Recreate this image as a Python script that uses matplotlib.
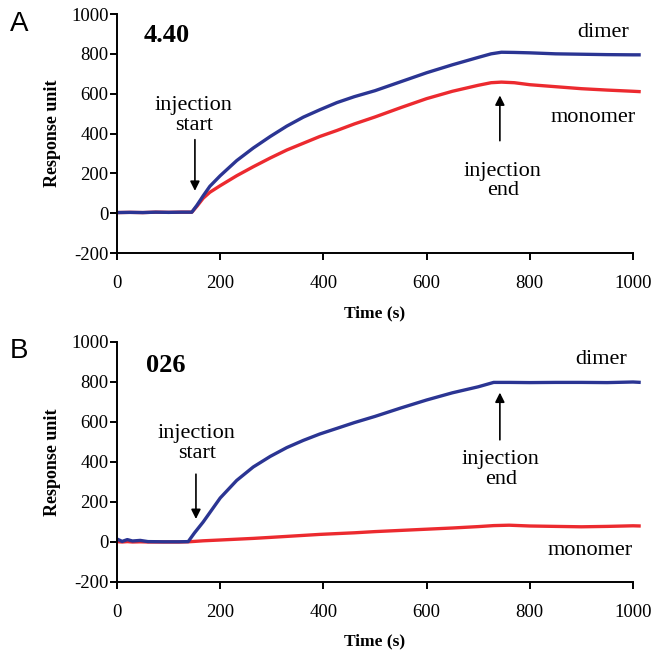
import matplotlib
matplotlib.use("Agg")
import matplotlib.pyplot as plt

# ---- data ----
time_A = [0, 25, 50, 75, 100, 125, 145, 155, 167, 180, 200, 232, 264, 297, 329,
          361, 393, 426, 460, 500, 550, 600, 650, 700, 725, 745, 770, 800, 850,
          900, 950, 1000, 1015]
dimer_A = [3, 4, 3, 5, 4, 5, 5, 40, 87, 135, 188, 264, 327, 385, 437,
           482, 519, 555, 585, 615, 660, 705, 745, 782, 800, 808, 807, 805, 800,
           798, 796, 795, 795]
monomer_A = [3, 4, 3, 5, 4, 5, 5, 35, 75, 105, 138, 188, 233, 277, 317,
             351, 385, 415, 448, 483, 530, 575, 612, 642, 655, 658, 655, 645, 635,
             625, 618, 612, 610]

time_B = [0, 10, 20, 30, 45, 60, 90, 120, 138, 150, 167, 200, 232, 264, 297,
          329, 361, 393, 426, 460, 500, 550, 600, 650, 700, 730, 760, 800, 850,
          900, 950, 1000, 1015]
dimer_B = [15, 3, 12, 5, 8, 2, 1, 1, 2, 45, 100, 220, 308, 375, 428,
           472, 508, 540, 568, 597, 628, 670, 710, 746, 776, 798, 798, 797, 798,
           798, 797, 800, 798]
monomer_B = [2, 0, 2, 0, 1, 0, 0, 0, 1, 3, 6, 10, 14, 18, 23,
             28, 33, 38, 42, 46, 52, 58, 64, 70, 77, 82, 84, 80, 78,
             76, 78, 81, 80]

yticks = [-200, 0, 200, 400, 600, 800, 1000]
xticks = [0, 200, 400, 600, 800, 1000]

BLUE = "#2b3593"
RED = "#ec2a2f"
SERIF = ["Liberation Serif", "DejaVu Serif"]

fig = plt.figure(figsize=(6.52, 6.56), dpi=100)
axA = fig.add_axes([117/652, 1-253/656, 516/652, 239/656])
axB = fig.add_axes([117/652, 1-582/656, 516/652, 240/656])

panels = [
    (axA, time_A, dimer_A, monomer_A, "A", "4.40",
     dict(title=(97, 893), start_txt=(149, 490), start_arrow=(151, 369, 112),
          end_txt=(748, 162), end_arrow=(742, 364, 591),
          dimer=(942, 909), monomer=(922, 480), timey=-0.218, lety=0.958)),
    (axB, time_B, dimer_B, monomer_B, "B", "026",
     dict(title=(95, 882), start_txt=(155, 491), start_arrow=(153, 339, 115),
          end_txt=(744, 361), end_arrow=(742, 511, 747),
          dimer=(939, 912), monomer=(917, -42), timey=-0.2125, lety=0.9625)),
]

for ax, t, d, m, letter, title, pos in panels:
    ax.plot(t, m, color=RED, lw=2.4, clip_on=False, solid_capstyle="butt")
    ax.plot(t, d, color=BLUE, lw=2.4, clip_on=False, solid_capstyle="butt")
    ax.set_xlim(0, 1000)
    ax.set_ylim(-200, 1000)
    ax.set_xticks(xticks)
    ax.set_yticks(yticks)
    ax.set_xticklabels([str(v) for v in xticks], fontfamily=SERIF, fontsize=13.5)
    ax.set_yticklabels([str(v) for v in yticks], fontfamily=SERIF, fontsize=13.5)
    for s in ("top", "right"):
        ax.spines[s].set_visible(False)
    for s in ("left", "bottom"):
        ax.spines[s].set_linewidth(1.4)
    ax.tick_params(axis="x", direction="out", length=5, width=1.4, pad=10.5)
    ax.tick_params(axis="y", direction="out", length=5, width=1.4, pad=1)
    ax.set_ylabel("Response unit", fontfamily=SERIF, fontweight="bold", fontsize=13)
    ax.yaxis.set_label_coords(-0.108, 0.5)
    ax.set_xlabel("Time (s)", fontfamily=SERIF, fontweight="bold", fontsize=12.5)
    ax.xaxis.set_label_coords(0.5, pos["timey"])

    ax.text(-0.207, pos["lety"], letter, transform=ax.transAxes, fontsize=20,
            fontfamily=["Liberation Sans", "DejaVu Sans"], va="center", ha="left")
    ax.text(*pos["title"], title, fontfamily=SERIF, fontweight="bold", fontsize=19,
            ha="center", va="center")
    ax.text(*pos["start_txt"], "injection\nstart", fontfamily=SERIF, fontsize=16,
            ha="center", va="center", linespacing=1.05)
    ax.text(*pos["end_txt"], "injection\nend", fontfamily=SERIF, fontsize=16,
            ha="center", va="center", linespacing=1.05)
    ax.text(*pos["dimer"], "dimer", fontfamily=SERIF, fontsize=16,
            ha="center", va="center")
    ax.text(*pos["monomer"], "monomer", fontfamily=SERIF, fontsize=16,
            ha="center", va="center")
    sx, sy0, sy1 = pos["start_arrow"]
    ax.annotate("", xy=(sx, sy1), xytext=(sx, sy0),
                arrowprops=dict(arrowstyle="-|>", color="black", lw=1.2,
                                mutation_scale=14, shrinkA=0, shrinkB=0))
    ex, ey0, ey1 = pos["end_arrow"]
    ax.annotate("", xy=(ex, ey1), xytext=(ex, ey0),
                arrowprops=dict(arrowstyle="-|>", color="black", lw=1.2,
                                mutation_scale=14, shrinkA=0, shrinkB=0))

fig.savefig("out.png", dpi=100)
